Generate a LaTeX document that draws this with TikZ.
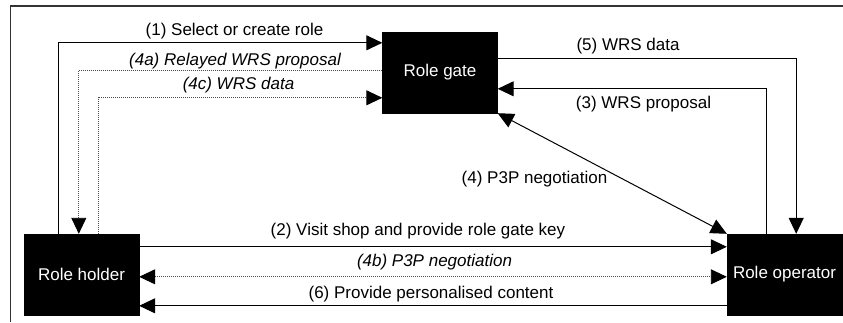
\documentclass[tikz,border=0pt]{standalone}
\usepackage{fontspec}
\setmainfont{Liberation Sans}
\usetikzlibrary{arrows.meta}
\begin{document}
\begin{tikzpicture}[x=1pt,y=-1pt,
  every node/.style={font=\fontsize{17}{20}\selectfont},
  actor/.style={draw=black,fill=black,text=white,rectangle,minimum width=115pt,minimum height=81pt,inner sep=0pt},
  lbl/.style={inner sep=0pt,anchor=center},
  ilbl/.style={inner sep=0pt,anchor=center,font=\fontsize{17}{20}\selectfont\itshape},
  arr/.style={line width=1pt,-{Triangle[length=16pt,width=15pt]}},
  dblarr/.style={line width=1pt,{Triangle[length=16pt,width=15pt]}-{Triangle[length=16pt,width=15pt]}},
  dotline/.style={line width=0.9pt,draw=black!70,dash pattern=on 0.9pt off 1.1pt},
  dotarr/.style={dotline,-{Triangle[length=16pt,width=15pt,color=black]}},
  dotdbl/.style={dotline,{Triangle[length=16pt,width=15pt,color=black]}-{Triangle[length=16pt,width=15pt,color=black]}},
  frame/.style={line width=1.3pt,draw=black!80}]
\useasboundingbox (0,0) rectangle (843,322);
% frame
\coordinate (ftr) at (843,6);
\coordinate (ftl) at (10.5,6);
\coordinate (fbl) at (10.5,322);
\draw[frame] (ftr) -- (ftl) -- (fbl);
% actors
\node[actor] (gate) at (440,72.5) {Role gate};
\node[actor] (holder) at (81.5,274.5) {Role holder};
\node[actor] (op) at (784.5,274.5) {Role operator};
% connectors
\draw[arr] ([xshift=35pt]holder.north west) |- ([yshift=-11pt]gate.north west);
\draw[dotarr] ([yshift=-39pt]gate.north west) -| ([xshift=55pt]holder.north west);
\draw[dotarr] ([xshift=75pt]holder.north west) |- ([yshift=-66pt]gate.north west);
\draw[arr] ([yshift=-27pt]gate.north east) -| ([xshift=-46pt]op.north east);
\draw[arr] ([xshift=-76pt]op.north east) |- ([yshift=-57pt]gate.north east);
\draw[dblarr] (gate.south east) -- (op.north west);
\draw[arr] ([yshift=-13pt]holder.north east) -- ([yshift=-13pt]op.north west);
\draw[dotdbl] ([yshift=-43pt]holder.north east) -- ([yshift=-43pt]op.north west);
\draw[arr] ([yshift=-72pt]op.north west) -- ([yshift=-72pt]holder.north east);
% labels
\node[lbl] (l1) at (234.5,31) {(1) Select or create role};
\node[ilbl] (l4a) at (235,61) {(4a) Relayed WRS proposal};
\node[ilbl] (l4c) at (238.5,85.5) {(4c) WRS data};
\node[lbl] (l5) at (628,46.5) {(5) WRS data};
\node[lbl] (l3) at (643.5,104.5) {(3) WRS proposal};
\node[lbl] (l4) at (534.5,179.5) {(4) P3P negotiation};
\node[lbl] (l2) at (418,231) {(2) Visit shop and provide role gate key};
\node[ilbl] (l4b) at (434.5,262) {(4b) P3P negotiation};
\node[lbl] (l6) at (431,294) {(6) Provide personalised content};
\end{tikzpicture}
\end{document}
